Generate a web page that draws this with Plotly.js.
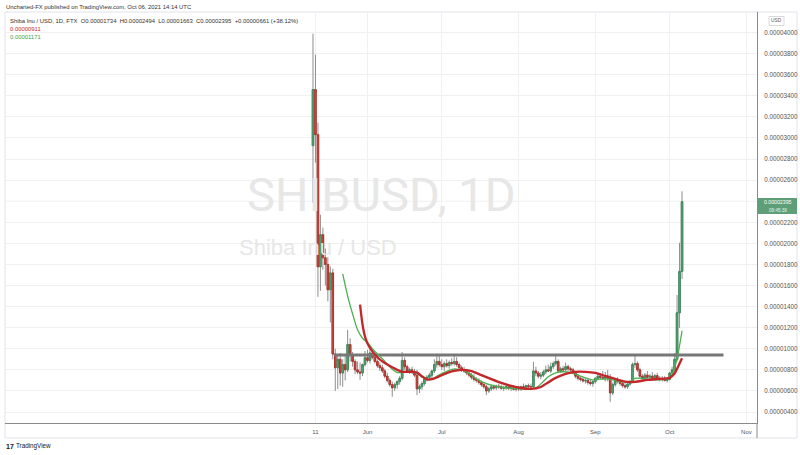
<!DOCTYPE html>
<html><head><meta charset="utf-8">
<script src="https://cdn.plot.ly/plotly-3.0.1.min.js"></script>
<style>html,body{margin:0;padding:0;background:#fff}#chart{width:800px;height:455px}</style>
</head><body><div id="chart"></div>
<script>
// ---------- DATA ----------
const firstDay = '2021-05-10';   // daily candles, one per day from this date
const open = [2927e-8,3459e-8,3031e-8,1778e-8,2082e-8,1863e-8,1800e-8,1560e-8,1720e-8,950e-8,
 820e-8,900e-8,770e-8,850e-8,800e-8,1040e-8,940e-8,880e-8,800e-8,780e-8,
 770e-8,850e-8,915e-8,890e-8,960e-8,920e-8,880e-8,840e-8,820e-8,790e-8,
 740e-8,700e-8,660e-8,630e-8,660e-8,690e-8,720e-8,890e-8,830e-8,790e-8,
 800e-8,780e-8,750e-8,620e-8,640e-8,670e-8,720e-8,730e-8,750e-8,790e-8,
 850e-8,880e-8,850e-8,830e-8,860e-8,840e-8,870e-8,860e-8,880e-8,850e-8,
 820e-8,800e-8,790e-8,770e-8,750e-8,730e-8,710e-8,700e-8,680e-8,660e-8,
 640e-8,600e-8,620e-8,640e-8,630e-8,645e-8,640e-8,625e-8,630e-8,640e-8,
 625e-8,630e-8,615e-8,630e-8,620e-8,640e-8,635e-8,650e-8,640e-8,640e-8,
 790e-8,770e-8,740e-8,750e-8,780e-8,800e-8,790e-8,830e-8,860e-8,880e-8,
 790e-8,810e-8,800e-8,830e-8,810e-8,800e-8,780e-8,740e-8,720e-8,710e-8,
 695e-8,700e-8,680e-8,670e-8,690e-8,720e-8,740e-8,730e-8,720e-8,740e-8,
 720e-8,581e-8,660e-8,700e-8,690e-8,670e-8,650e-8,640e-8,665e-8,690e-8,
 850e-8,860e-8,800e-8,740e-8,720e-8,750e-8,730e-8,740e-8,720e-8,745e-8,
 720e-8,710e-8,720e-8,700e-8,710e-8,770e-8,800e-8,900e-8,1341e-8,1734e-8];
const high = [3990e-8,3791e-8,3145e-8,2272e-8,2150e-8,1950e-8,1870e-8,1780e-8,1760e-8,1000e-8,
 940e-8,960e-8,900e-8,930e-8,1180e-8,1100e-8,970e-8,900e-8,880e-8,870e-8,
 860e-8,980e-8,990e-8,1000e-8,990e-8,950e-8,900e-8,870e-8,850e-8,810e-8,
 770e-8,720e-8,690e-8,680e-8,700e-8,740e-8,970e-8,920e-8,850e-8,820e-8,
 830e-8,810e-8,800e-8,660e-8,690e-8,730e-8,750e-8,770e-8,800e-8,900e-8,
 940e-8,940e-8,900e-8,880e-8,900e-8,890e-8,910e-8,930e-8,920e-8,870e-8,
 840e-8,830e-8,810e-8,790e-8,770e-8,760e-8,730e-8,720e-8,700e-8,680e-8,
 660e-8,640e-8,660e-8,660e-8,660e-8,670e-8,660e-8,650e-8,660e-8,660e-8,
 650e-8,655e-8,645e-8,650e-8,650e-8,670e-8,660e-8,670e-8,670e-8,876e-8,
 830e-8,790e-8,780e-8,800e-8,840e-8,850e-8,870e-8,880e-8,935e-8,900e-8,
 830e-8,840e-8,870e-8,850e-8,830e-8,820e-8,790e-8,760e-8,740e-8,730e-8,
 720e-8,720e-8,710e-8,700e-8,730e-8,760e-8,770e-8,790e-8,780e-8,800e-8,
 760e-8,680e-8,720e-8,730e-8,710e-8,690e-8,680e-8,680e-8,700e-8,870e-8,
 942e-8,880e-8,820e-8,760e-8,770e-8,790e-8,760e-8,780e-8,760e-8,770e-8,
 740e-8,740e-8,740e-8,730e-8,780e-8,830e-8,960e-8,1510e-8,2006e-8,2494e-8];
const low = [2386e-8,2765e-8,1493e-8,1550e-8,1750e-8,1600e-8,1450e-8,1250e-8,900e-8,600e-8,
 620e-8,650e-8,640e-8,700e-8,780e-8,880e-8,830e-8,760e-8,760e-8,705e-8,
 740e-8,830e-8,870e-8,860e-8,900e-8,860e-8,820e-8,790e-8,770e-8,720e-8,
 680e-8,640e-8,545e-8,600e-8,620e-8,660e-8,700e-8,800e-8,770e-8,760e-8,
 760e-8,730e-8,560e-8,580e-8,610e-8,650e-8,690e-8,700e-8,720e-8,770e-8,
 820e-8,830e-8,800e-8,790e-8,820e-8,810e-8,840e-8,840e-8,830e-8,800e-8,
 780e-8,770e-8,750e-8,730e-8,710e-8,690e-8,680e-8,660e-8,640e-8,620e-8,
 560e-8,580e-8,600e-8,610e-8,610e-8,620e-8,610e-8,600e-8,610e-8,610e-8,
 600e-8,605e-8,595e-8,600e-8,600e-8,615e-8,610e-8,620e-8,620e-8,630e-8,
 740e-8,720e-8,710e-8,730e-8,760e-8,780e-8,770e-8,810e-8,840e-8,770e-8,
 770e-8,780e-8,790e-8,790e-8,780e-8,760e-8,720e-8,700e-8,690e-8,680e-8,
 670e-8,660e-8,650e-8,640e-8,670e-8,700e-8,710e-8,710e-8,690e-8,690e-8,
 496e-8,560e-8,640e-8,670e-8,650e-8,630e-8,620e-8,620e-8,650e-8,680e-8,
 820e-8,780e-8,720e-8,700e-8,700e-8,720e-8,700e-8,710e-8,700e-8,710e-8,
 690e-8,690e-8,690e-8,680e-8,700e-8,750e-8,780e-8,880e-8,1198e-8,1663e-8];
const close = [3459e-8,3031e-8,1778e-8,2082e-8,1863e-8,1800e-8,1560e-8,1720e-8,950e-8,820e-8,
 900e-8,770e-8,850e-8,800e-8,1040e-8,940e-8,880e-8,800e-8,780e-8,770e-8,
 850e-8,915e-8,890e-8,960e-8,920e-8,880e-8,840e-8,820e-8,790e-8,740e-8,
 700e-8,660e-8,630e-8,660e-8,690e-8,720e-8,890e-8,830e-8,790e-8,800e-8,
 780e-8,750e-8,620e-8,640e-8,670e-8,720e-8,730e-8,750e-8,790e-8,850e-8,
 880e-8,850e-8,830e-8,860e-8,840e-8,870e-8,860e-8,880e-8,850e-8,820e-8,
 800e-8,790e-8,770e-8,750e-8,730e-8,710e-8,700e-8,680e-8,660e-8,640e-8,
 600e-8,620e-8,640e-8,630e-8,645e-8,640e-8,625e-8,630e-8,640e-8,625e-8,
 630e-8,615e-8,630e-8,620e-8,640e-8,635e-8,650e-8,640e-8,640e-8,790e-8,
 770e-8,740e-8,750e-8,780e-8,800e-8,790e-8,830e-8,860e-8,880e-8,790e-8,
 810e-8,800e-8,830e-8,810e-8,800e-8,780e-8,740e-8,720e-8,710e-8,695e-8,
 700e-8,680e-8,670e-8,690e-8,720e-8,740e-8,730e-8,720e-8,740e-8,720e-8,
 581e-8,660e-8,700e-8,690e-8,670e-8,650e-8,640e-8,665e-8,690e-8,850e-8,
 860e-8,800e-8,740e-8,720e-8,750e-8,730e-8,740e-8,720e-8,745e-8,720e-8,
 710e-8,720e-8,700e-8,710e-8,770e-8,800e-8,900e-8,1341e-8,1734e-8,2395e-8];

// moving averages (green = fast, red = slow)
const maFastDates = ['2021-05-22','2021-05-24','2021-05-26','2021-05-28','2021-05-30','2021-06-01','2021-06-03','2021-06-05','2021-06-07','2021-06-09','2021-06-11','2021-06-13','2021-06-15','2021-06-17','2021-06-19','2021-06-21','2021-06-23','2021-06-25','2021-06-27','2021-06-29','2021-07-01','2021-07-03','2021-07-05','2021-07-07','2021-07-09','2021-07-11','2021-07-13','2021-07-15','2021-07-17','2021-07-19','2021-07-21','2021-07-24','2021-07-27','2021-07-30','2021-08-02','2021-08-05','2021-08-07','2021-08-09','2021-08-11','2021-08-13','2021-08-16','2021-08-19','2021-08-22','2021-08-25','2021-08-28','2021-08-31','2021-09-03','2021-09-06','2021-09-09','2021-09-12','2021-09-15','2021-09-17','2021-09-20','2021-09-23','2021-09-27','2021-09-30','2021-10-01','2021-10-02','2021-10-03','2021-10-04','2021-10-05','2021-10-06'];
const maFastValues = [1711e-8,1500e-8,1330e-8,1180e-8,1100e-8,1060e-8,1000e-8,950e-8,905e-8,855e-8,805e-8,775e-8,775e-8,780e-8,778e-8,765e-8,730e-8,710e-8,710e-8,740e-8,765e-8,785e-8,805e-8,808e-8,800e-8,780e-8,750e-8,715e-8,690e-8,670e-8,655e-8,640e-8,630e-8,625e-8,620e-8,619e-8,625e-8,645e-8,690e-8,735e-8,772e-8,782e-8,775e-8,750e-8,725e-8,705e-8,712e-8,712e-8,700e-8,686e-8,690e-8,720e-8,718e-8,710e-8,705e-8,715e-8,724e-8,755e-8,820e-8,910e-8,1030e-8,1171e-8];
const maSlowDates = ['2021-05-29','2021-05-30','2021-05-31','2021-06-01','2021-06-03','2021-06-05','2021-06-07','2021-06-09','2021-06-11','2021-06-13','2021-06-15','2021-06-18','2021-06-21','2021-06-23','2021-06-25','2021-06-27','2021-06-29','2021-07-02','2021-07-05','2021-07-09','2021-07-13','2021-07-17','2021-07-21','2021-07-25','2021-07-29','2021-08-02','2021-08-06','2021-08-10','2021-08-12','2021-08-16','2021-08-20','2021-08-24','2021-08-28','2021-09-01','2021-09-05','2021-09-09','2021-09-13','2021-09-17','2021-09-22','2021-09-27','2021-10-01','2021-10-03','2021-10-04','2021-10-05','2021-10-06'];
const maSlowValues = [1420e-8,1230e-8,1115e-8,1050e-8,975e-8,920e-8,880e-8,850e-8,825e-8,800e-8,782e-8,781e-8,775e-8,740e-8,710e-8,712e-8,728e-8,760e-8,785e-8,800e-8,788e-8,750e-8,712e-8,676e-8,648e-8,628e-8,619e-8,638e-8,667e-8,724e-8,762e-8,781e-8,781e-8,771e-8,743e-8,714e-8,688e-8,686e-8,705e-8,714e-8,724e-8,765e-8,810e-8,860e-8,911e-8];

// horizontal level drawn on the chart
const levelDates = ['2021-05-18 14:00','2021-10-22 18:00'];
const levelValue = 942e-8;

const tickDates = ['2021-05-11','2021-06-01','2021-07-01','2021-08-01','2021-09-01','2021-10-01','2021-11-01'];
const tickLabels = ['11','Jun','Jul','Aug','Sep','Oct','Nov'];
// price-scale labels (0.00002400 is hidden under the last-price badge)
const priceTicks = [400e-8,600e-8,800e-8,1000e-8,1200e-8,1400e-8,1600e-8,1800e-8,2000e-8,2200e-8,
 2600e-8,2800e-8,3000e-8,3200e-8,3400e-8,3600e-8,3800e-8,4000e-8];
const hiddenTick = 2400e-8;

const headerLine = 'Uncharted-FX published on TradingView.com, Oct 06, 2021 14:14 UTC';
const legendLine = 'Shiba Inu / USD, 1D, FTX  O0.00001734  H0.00002494  L0.00001663  C0.00002395  +0.00000661 (+38.12%)';
const maSlowLabel = '0.00000911';
const maFastLabel = '0.00001171';
const lastPrice = '0.00002395';
const countdown = '09:45:39';

// ---------- BUILD ----------
const dates = [];
{
  const d0 = new Date(firstDay + 'T00:00:00Z');
  for (let i = 0; i < close.length; i++) {
    const d = new Date(d0.getTime() + i * 86400000);
    dates.push(d.toISOString().slice(0, 10));
  }
}
const bodyHigh = open.map((o, i) => Math.max(o, close[i]));
const bodyLow = open.map((o, i) => Math.min(o, close[i]));

const W = 800, H = 455;
const L = 5, R = 757, T = 12, B = 423;
const px = x => (x - L) / (R - L);
const py = y => (B - y) / (B - T);

const UP = '#3f8c5d', UPF = '#5aa97c', DN = '#b3342e', DNF = '#d0514a', WICK = '#8e8e8e';
const GRID = '#f0f0f0';

const traces = [
  { type: 'candlestick', x: dates, open: open, high: high, low: low, close: close,
    increasing: { line: { color: WICK, width: 1 }, fillcolor: WICK },
    decreasing: { line: { color: WICK, width: 1 }, fillcolor: WICK },
    whiskerwidth: 0, hoverinfo: 'skip', showlegend: false },
  { type: 'candlestick', x: dates, open: open, high: bodyHigh, low: bodyLow, close: close,
    increasing: { line: { color: UP, width: 1 }, fillcolor: UPF },
    decreasing: { line: { color: DN, width: 1 }, fillcolor: DNF },
    whiskerwidth: 0, hoverinfo: 'skip', showlegend: false },
  { type: 'scatter', mode: 'lines', x: levelDates, y: [levelValue, levelValue],
    line: { color: '#777777', width: 3 }, hoverinfo: 'skip', showlegend: false },
  { type: 'scatter', mode: 'lines', x: maFastDates, y: maFastValues,
    line: { color: '#4caf50', width: 1.3, shape: 'spline', smoothing: 0.6 }, hoverinfo: 'skip', showlegend: false },
  { type: 'scatter', mode: 'lines', x: maSlowDates, y: maSlowValues,
    line: { color: '#c3262b', width: 2.3, shape: 'spline', smoothing: 0.6 }, hoverinfo: 'skip', showlegend: false }
];

const FONT = 'Liberation Sans, Arial, sans-serif';
const ann = (x, y, text, size, color, xanchor, extra) => Object.assign({
  xref: 'paper', yref: 'paper', x: px(x), y: py(y), text: text, showarrow: false,
  xanchor: xanchor || 'left', yanchor: 'middle', font: { family: FONT, size: size, color: color }
}, extra || {});

const layout = {
  width: W, height: H,
  margin: { l: L, r: W - R, t: T, b: H - B, pad: 0 },
  paper_bgcolor: '#ffffff', plot_bgcolor: '#ffffff',
  showlegend: false,
  boxgap: 0.12,
  xaxis: {
    type: 'date', range: ['2021-01-05 15:36', '2021-11-05 06:30'],
    rangeslider: { visible: false },
    tickmode: 'array', tickvals: tickDates, ticktext: tickLabels,
    showgrid: true, gridcolor: GRID, gridwidth: 1,
    showline: true, linecolor: '#8a8a8a', linewidth: 1,
    ticks: '', ticklabelstandoff: 3,
    tickfont: { family: FONT, size: 6, color: '#555555' },
    zeroline: false, fixedrange: true
  },
  yaxis: {
    side: 'right', range: [296e-8, 4195e-8],
    tickmode: 'array', tickvals: priceTicks, tickformat: '.8f',
    showgrid: true, gridcolor: GRID, gridwidth: 1,
    showline: true, linecolor: '#8a8a8a', linewidth: 1,
    ticks: '', ticklabelstandoff: 5,
    tickfont: { family: FONT, size: 6.3, color: '#555555' },
    zeroline: false, fixedrange: true
  },
  shapes: [
    { type: 'rect', xref: 'paper', yref: 'paper', x0: px(5), x1: px(797), y0: py(438), y1: py(12),
      line: { color: '#e1e3e8', width: 1 }, fillcolor: 'rgba(0,0,0,0)', layer: 'below' },
    { type: 'line', xref: 'paper', yref: 'y', x0: 0, x1: 1, y0: hiddenTick, y1: hiddenTick,
      line: { color: GRID, width: 1 }, layer: 'below' },
    { type: 'line', xref: 'paper', yref: 'paper', x0: px(757), x1: px(757), y0: py(423), y1: py(438),
      line: { color: '#8a8a8a', width: 1 } },
    { type: 'rect', xref: 'paper', yref: 'paper', x0: px(757.5), x1: px(797), y0: py(214), y1: py(198),
      line: { width: 0 }, fillcolor: '#5f9f77' },
    { type: 'rect', xref: 'paper', yref: 'paper', x0: px(769), x1: px(784), y0: py(25.5), y1: py(16.5),
      line: { color: '#cfcfcf', width: 0.8 }, fillcolor: '#ffffff' }
  ],
  annotations: [
    ann(381, 194, 'SHIBUSD, 1D', 47, '#e7e7e7', 'center', { font: { family: 'Liberation Sans Narrow, Roboto, sans-serif', size: 47, color: '#e7e7e7' } }),
    ann(318, 247, 'Shiba Inu / USD', 22, '#e7e7e7', 'center'),
    ann(4, 7, headerLine, 5.9, '#333333'),
    ann(8, 20.7, legendLine, 5.9, '#333333'),
    ann(8, 29, maSlowLabel, 5.9, '#c62828'),
    ann(8, 37.2, maFastLabel, 5.9, '#43a047'),
    ann(777.5, 202, lastPrice, 5.2, '#ffffff', 'center', { borderpad: 0 }),
    ann(777.5, 210, countdown, 4.6, '#e9f4ec', 'center', { borderpad: 0 }),
    ann(776.5, 21, 'USD', 4.8, '#555555', 'center'),
    ann(4, 446, '<b>17</b>', 7, '#131722'),
    ann(14, 446, 'TradingView', 6.3, '#131722')
  ]
};

Plotly.newPlot('chart', traces, layout, { displayModeBar: false, staticPlot: true });
</script>
</body></html>
